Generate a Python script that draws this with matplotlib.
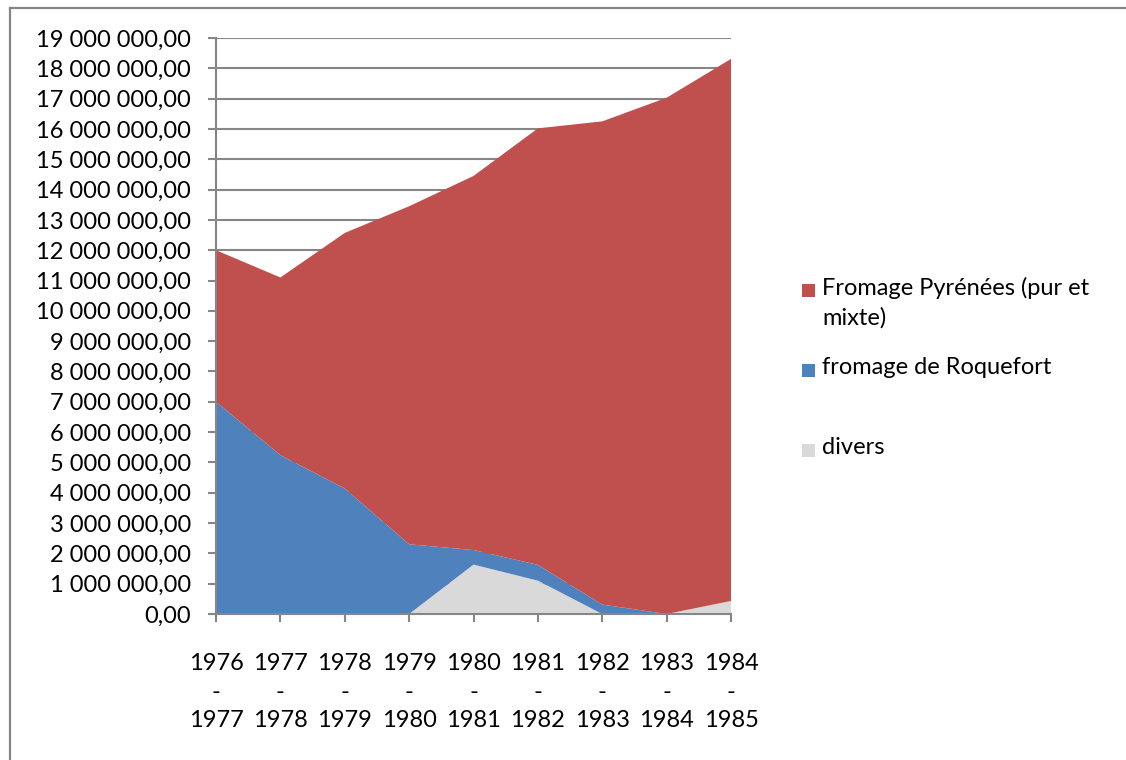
import matplotlib
matplotlib.use("Agg")
import matplotlib.pyplot as plt
from matplotlib.ticker import FuncFormatter, MultipleLocator
from matplotlib.lines import Line2D

plt.rcParams['font.family'] = ['Lato', 'DejaVu Sans']

periods = ["1976\n-\n1977", "1977\n-\n1978", "1978\n-\n1979", "1979\n-\n1980",
           "1980\n-\n1981", "1981\n-\n1982", "1982\n-\n1983", "1983\n-\n1984",
           "1984\n-\n1985"]
divers = [0, 0, 0, 0, 1630000, 1100000, 0, 0, 430000]
roquefort = [7000000, 5240000, 4140000, 2300000, 480000, 520000, 310000, 0, 0]
pyrenees = [5000000, 5860000, 8430000, 11150000, 12340000, 14400000, 15940000, 17030000, 17880000]

labels = ["Fromage Pyrénées (pur et\nmixte)", "fromage de Roquefort", "divers"]
colors = {"pyr": "#C0504D", "roq": "#4F81BD", "div": "#D9D9D9"}

FS = 17

fig = plt.figure(figsize=(11.26, 7.6), dpi=100)
ax = fig.add_axes([216/1126, 1-614/760, (731-216)/1126, (614-38)/760])

x = list(range(len(periods)))
ax.stackplot(x, divers, roquefort, pyrenees,
             colors=[colors["div"], colors["roq"], colors["pyr"]],
             linewidth=0, zorder=1)

ax.set_xlim(0, len(periods) - 1)
ax.set_ylim(0, 19000000)
ax.yaxis.set_major_locator(MultipleLocator(1000000))

def fmt(v, pos):
    s = f"{int(round(v)):,}".replace(",", " ")
    return s + ",00"
ax.yaxis.set_major_formatter(FuncFormatter(fmt))

ax.set_xticks(x)
ax.set_xticklabels(periods, fontsize=FS, linespacing=1.45)
for t in ax.get_yticklabels():
    t.set_fontsize(FS)

gc = "#868686"
ax.grid(axis="y", color=gc, linewidth=1.5, zorder=0)
ax.set_axisbelow(True)
for s in ["top", "right"]:
    ax.spines[s].set_visible(False)
for s in ["left", "bottom"]:
    ax.spines[s].set_color(gc)
    ax.spines[s].set_linewidth(1.5)
    ax.spines[s].set_zorder(3)
ax.tick_params(axis="both", direction="out", color=gc, width=1.5, length=6,
               colors="black")
ax.tick_params(axis="x", pad=22)
ax.tick_params(axis="y", pad=12)

# legend drawn manually
from matplotlib.patches import Rectangle
leg_items = [(labels[0], colors["pyr"], 290), (labels[1], colors["roq"], 370),
             (labels[2], colors["div"], 450)]
for text, col, ypx in leg_items:
    fig.patches.append(Rectangle((802/1126, 1-(ypx+7)/760), 13/1126, 13/760,
                                 transform=fig.transFigure, facecolor=col,
                                 edgecolor="none"))
    fig.text(822/1126, 1-(ypx-13)/760, text, fontsize=FS, va="top",
             ha="left", linespacing=1.45)

# outer border (only top and left edges visible)
fig.lines.append(Line2D([9.5/1126, 9.5/1126], [0, 1-8/760], transform=fig.transFigure,
                        color=gc, linewidth=1.6))
fig.lines.append(Line2D([9.5/1126, 1], [1-8/760, 1-8/760], transform=fig.transFigure,
                        color=gc, linewidth=1.6))

fig.savefig("out.png", dpi=100)
